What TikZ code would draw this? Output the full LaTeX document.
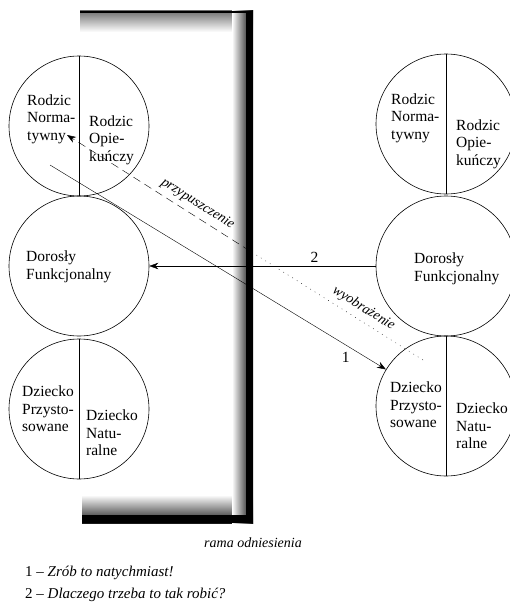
\documentclass[tikz,border=0pt]{standalone}
\usepackage{fontspec}
\setmainfont{Liberation Serif}
\usetikzlibrary{arrows,arrows.meta}

\begin{document}
\begin{tikzpicture}[x=1pt,y=-1pt,
	ego/.style={draw=black,circle,minimum size=140pt,inner sep=0pt,line width=0.6pt},
	part/.style={anchor=west,align=left,inner sep=0pt,font=\fontsize{15.5}{17.5}\selectfont},
	gloss/.style={font=\fontsize{14}{16}\itshape\selectfont},
	note/.style={anchor=west,inner sep=0pt,font=\fontsize{15}{17}\selectfont},
	tip/.style={-{Stealth[length=9pt,width=6.5pt]}}]
		\useasboundingbox (0,0) rectangle (510,610);
		
		\shade[top color=black!55,bottom color=white] (80,11) rectangle (253,32);
		\shade[top color=white,bottom color=black!90] (82,495) rectangle (253,523);
		\shade[left color=white,right color=black] (232,11) rectangle (253,523);
		\path[fill=black] (80,11) rectangle (253,13.5);
		\path[fill=black] (82,515) rectangle (253,523);
		\path[fill=black] (246,11) rectangle (253,523);
		
		\node[ego] (rl) at (79,126) {};
		\node[ego] (fl) at (79,266) {};
		\node[ego] (dl) at (79,409) {};
		\node[ego] (rr) at (446,124) {};
		\node[ego] (fr) at (446,266) {};
		\node[ego] (dr) at (446,406) {};
		\draw (rl.north) -- (rl.south);
		\draw (dl.north) -- (dl.south);
		\draw (rr.north) -- (rr.south);
		\draw (dr.north) -- (dr.south);
		
		\node[part] (rlN) at (27,119) {Rodzic\\Norma-\\tywny};
		\node[part] (rlO) at (89,140) {Rodzic\\Opie-\\kuńczy};
		\node[part] (flF) at (26,267) {Dorosły\\Funkcjonalny};
		\node[part] (dlP) at (22,409) {Dziecko\\Przysto-\\sowane};
		\node[part] (dlN) at (86,433) {Dziecko\\Natu-\\ralne};
		\node[part] (rrN) at (391,118) {Rodzic\\Norma-\\tywny};
		\node[part] (rrO) at (456,144) {Rodzic\\Opie-\\kuńczy};
		\node[part] (frF) at (414,269) {Dorosły\\Funkcjonalny};
		\node[part] (drP) at (390,405) {Dziecko\\Przysto-\\sowane};
		\node[part] (drN) at (456,426) {Dziecko\\Natu-\\ralne};
		
		\coordinate (s1) at (50,165);
		\coordinate (wy) at (423,360);
		\coordinate (rm) at (250,251);
		\coordinate (pz) at (67,135);
		
		\draw[tip] (s1) -- node[pos=0.88,below=7pt,part,anchor=north] {1} (dr);
		\draw[tip] (fr) -- node[pos=0.27,above=3pt,part,anchor=south] {2} (fl);
		\draw[dash pattern=on 8pt off 5pt,tip] (rm) -- node[pos=0.32,sloped,above=2pt,gloss] {przypuszczenie} (pz);
		\draw[dash pattern=on 0.8pt off 4.5pt] (wy) -- node[pos=0.38,sloped,above=2pt,gloss] {wyobrażenie} (rm);
		
		\node[gloss] (rama) at (253,543) {rama odniesienia};
		\node[note] (n1) at (25,573) {1 -- \textit{Zrób to natychmiast!}};
		\node[note] (n2) at (25,595) {2 -- \textit{Dlaczego trzeba to tak robić?}};
	\end{tikzpicture}
\end{document}
